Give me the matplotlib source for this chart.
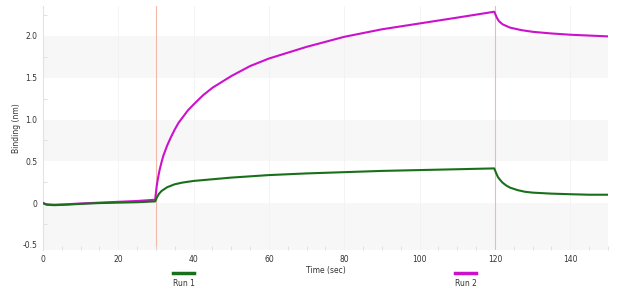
import matplotlib.pyplot as plt
from matplotlib.lines import Line2D

# valeurs
t1 = [0, 1, 3, 6, 10, 15, 20, 25, 29.8, 30.3, 30.8, 31.5, 32, 33, 35, 37, 40, 45, 50, 60, 70, 80, 90, 100, 110,
      119.8, 120.3, 120.8, 121.5, 122, 123, 124, 126, 128, 130, 135, 140, 145, 150]
run1 = [0.0, -0.02, -0.025, -0.02, -0.01, 0.0, 0.005, 0.01, 0.02, 0.07, 0.11, 0.145, 0.16, 0.19, 0.225, 0.245,
        0.265, 0.285, 0.305, 0.335, 0.355, 0.37, 0.385, 0.395, 0.405, 0.415,
        0.36, 0.31, 0.27, 0.245, 0.21, 0.185, 0.155, 0.135, 0.125, 0.113, 0.106, 0.1, 0.1]

t2 = [0, 1, 3, 6, 10, 15, 20, 25, 29.8, 30.2, 30.6, 31, 31.5, 32, 33, 34, 35, 36, 37, 38.5, 40, 42.5, 45, 47.5, 50,
      55, 60, 65, 70, 80, 90, 100, 110, 119.8, 120.2, 120.6, 121, 121.5, 122, 123, 124, 125.5, 127, 130, 135, 140,
      145, 150]
run2 = [0.0, -0.015, -0.02, -0.015, -0.005, 0.005, 0.015, 0.025, 0.04, 0.2, 0.31, 0.4, 0.49, 0.57, 0.69, 0.79,
        0.88, 0.96, 1.02, 1.11, 1.18, 1.29, 1.38, 1.45, 1.52, 1.64, 1.73, 1.8, 1.87, 1.99, 2.08, 2.15, 2.22, 2.29,
        2.25, 2.21, 2.18, 2.16, 2.14, 2.12, 2.1, 2.085, 2.07, 2.05, 2.03, 2.015, 2.005, 1.995]

steps = [30, 120]
xticks = [0, 20, 40, 60, 80, 100, 120, 140]
yticks = [-0.5, 0, 0.5, 1.0, 1.5, 2.0]
ylabels = ['-0.5', '0', '0.5', '1.0', '1.5', '2.0']

vert = '#1a701a'
magenta = '#cc11cc'

fig = plt.figure(figsize=(6.4, 2.95), dpi=100)
ax = fig.add_axes([0.067, 0.153, 0.883, 0.827])

# bandes grises
for lo, hi in [(-0.6, 0), (0.5, 1.0), (1.5, 2.0)]:
    ax.axhspan(lo, hi, color='#f7f7f7', zorder=0, lw=0)
for x in xticks:
    ax.axvline(x, color='#f2f2f2', lw=0.6, zorder=0.5)
for s in steps:
    ax.axvline(s, color='#f2b8a8', lw=0.8, zorder=1)

ax.plot(t2, run2, color=magenta, lw=1.5, zorder=3)
ax.plot(t1, run1, color=vert, lw=1.5, zorder=3)

ax.set_xlim(0, 150)
ax.set_ylim(-0.56, 2.36)
ax.set_xticks(xticks)
ax.set_xticks(range(0, 151, 5), minor=True)
ax.set_yticks(yticks)
ax.set_yticklabels(ylabels)
ax.set_yticks([-0.25, 0.25, 0.75, 1.25, 1.75, 2.25], minor=True)
ax.tick_params(axis='both', which='major', length=0, labelsize=5.5, colors='#333333')
ax.tick_params(axis='x', which='major', pad=4)
ax.tick_params(axis='y', which='major', pad=4)
ax.tick_params(axis='both', which='minor', direction='in', length=3, color='#dddddd')
for sp in ax.spines.values():
    sp.set_visible(False)
ax.spines['left'].set_visible(True)
ax.spines['left'].set_color('#f3dcdc')
ax.spines['left'].set_linewidth(0.8)

ax.set_xlabel('Time (sec)', fontsize=5.5, color='#333333', labelpad=1)
ax.set_ylabel('Binding (nm)', fontsize=5.5, color='#333333', labelpad=1)

# légende sous le graphique
fig.add_artist(Line2D([173 / 640, 194 / 640], [1 - 273 / 295, 1 - 273 / 295], color=vert, lw=2.5))
fig.text(184 / 640, 1 - 283 / 295, 'Run 1', fontsize=5.5, ha='center', va='center', color='#333333')
fig.add_artist(Line2D([455 / 640, 476 / 640], [1 - 273 / 295, 1 - 273 / 295], color=magenta, lw=2.5))
fig.text(466 / 640, 1 - 283 / 295, 'Run 2', fontsize=5.5, ha='center', va='center', color='#333333')

fig.savefig('out.png', dpi=100)
